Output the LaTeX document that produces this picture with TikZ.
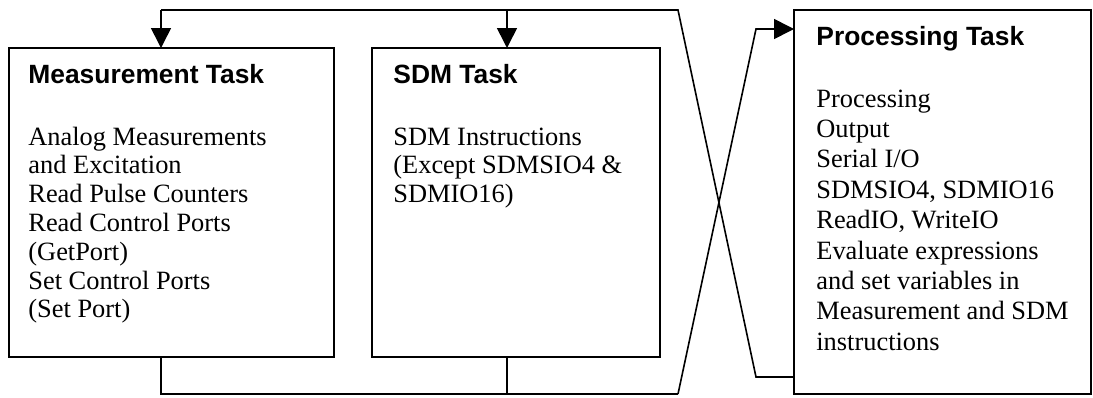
\documentclass[tikz,border=0pt]{standalone}
\usepackage{fontspec}
\setmainfont{Liberation Serif}
\newfontfamily\headfont{Liberation Sans}
\usetikzlibrary{arrows.meta}
\tikzset{
  taskbox/.style={draw, line width=0.8pt, inner sep=0pt, outer sep=0pt, anchor=north west},
  tasktitle/.style={anchor=base west, inner sep=0pt, font=\headfont\bfseries\fontsize{13.2}{14.4}\selectfont},
  % anchored at the baseline of the last line
  tasktext/.style={anchor=base west, inner sep=0pt, align=left, font=\fontsize{13.2}{14.4}\selectfont},
  flow/.style={line width=0.8pt},
  flowarrow/.style={flow, -{Triangle[length=10pt, width=10pt]}}
}
\begin{document}
\begin{tikzpicture}[x=0.5pt, y=-0.5pt]
  \useasboundingbox (0,0) rectangle (1093,397);

  % task boxes
  \node[taskbox, minimum width=162.5pt, minimum height=154.5pt] (meas) at (9,48) {};
  \node[taskbox, minimum width=144pt, minimum height=154.5pt] (sdm) at (372,48) {};
  \node[taskbox, minimum width=148.5pt, minimum height=192pt] (proc) at (794,10) {};

  % box contents
  \node[tasktitle] (meastitle) at (28,83) {Measurement Task};
  \node[tasktext] (meastext) at (28,317.8) {Analog Measurements\\and Excitation\\Read Pulse Counters\\Read Control Ports\\(GetPort)\\Set Control Ports\\(Set Port)};
  \node[tasktitle] (sdmtitle) at (393,83) {SDM Task};
  \node[tasktext] (sdmtext) at (393,202.6) {SDM Instructions\\(Except SDMSIO4 \&\\SDMIO16)};
  \node[tasktitle] (proctitle) at (816,45) {Processing Task};
  \node[tasktext, font=\fontsize{13.2}{15.2}\selectfont] (proctext) at (816,350.2) {Processing\\Output\\Serial I/O\\SDMSIO4, SDMIO16\\ReadIO, WriteIO\\Evaluate expressions\\and set variables in\\Measurement and SDM\\instructions};

  % bend points of the two loops
  \coordinate (t1) at (161,10);
  \coordinate (t2) at (507,10);
  \coordinate (t3) at (678,10);
  \coordinate (t4) at (756,377);
  \coordinate (b1) at (161,394);
  \coordinate (b2) at (507,394);
  \coordinate (b3) at (678,394);
  \coordinate (b4) at (756,29);

  % processing -> measurement and SDM
  \draw[flow] (proc.west |- t4) -- (t4) -- (t3) -- (t1);
  \draw[flowarrow] (t1) -- (t1 |- meas.north);
  \draw[flowarrow] (t2) -- (t2 |- sdm.north);

  % measurement and SDM -> processing
  \draw[flow] (b1 |- meas.south) -- (b1) -- (b3);
  \draw[flow] (b2 |- sdm.south) -- (b2);
  \draw[flowarrow] (b3) -- (b4) -- (proc.west |- b4);
\end{tikzpicture}
\end{document}
